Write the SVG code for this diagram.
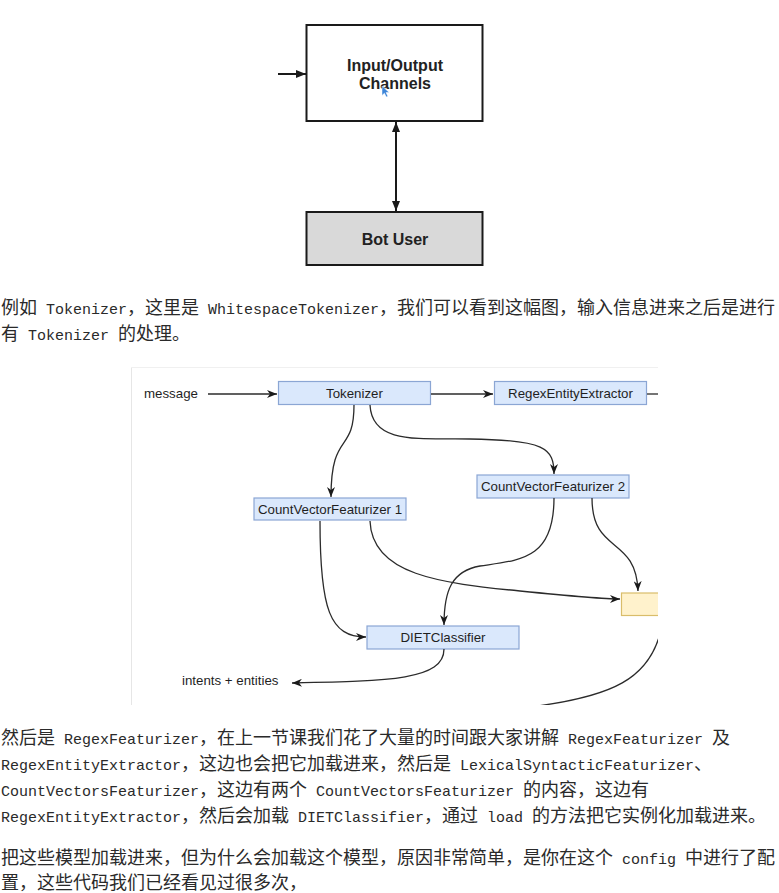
<svg xmlns="http://www.w3.org/2000/svg" width="779" height="893" viewBox="0 0 779 893">
<style>
.p{fill:#2a2a2a}
.c{font-family:"Noto Sans CJK SC","Noto Sans",sans-serif;font-size:18px}
.l{font-family:"Liberation Mono",monospace;font-size:15px}
.bt{font-family:"Liberation Sans",Arial,sans-serif;font-weight:bold;font-size:16px;fill:#222;text-anchor:middle}
.nt{font-family:"Liberation Sans",Arial,sans-serif;font-size:13.3px;fill:#1f1f1f;text-anchor:middle}
.lb{font-family:"Liberation Sans",Arial,sans-serif;font-size:13.3px;fill:#1f1f1f}
.bl{fill:#dae8fc;stroke:#8ba6d4;stroke-width:1.2}
.ye{fill:#fff2cc;stroke:#d9bd6a;stroke-width:1.2}
.e1{fill:none;stroke:#1a1a1a;stroke-width:2}
.e2{fill:none;stroke:#2b2b2b;stroke-width:1.3}
</style>
<defs>
<marker id="a1" viewBox="0 0 10 8" refX="10" refY="4" markerWidth="10" markerHeight="8" orient="auto-start-reverse" markerUnits="userSpaceOnUse"><path d="M0,0 L10,4 L0,8 Z" fill="#1a1a1a"/></marker>
<marker id="a2" viewBox="0 0 10 8" refX="10" refY="4" markerWidth="10" markerHeight="8" orient="auto" markerUnits="userSpaceOnUse"><path d="M0,0 L10,4 L0,8 L3,4 Z" fill="#1a1a1a"/></marker>
<clipPath id="cp"><rect x="131" y="367" width="527" height="338"/></clipPath>
</defs>
<rect width="779" height="893" fill="#fff"/>

<!-- top figure -->
<g id="io">
<rect x="306.5" y="25" width="176" height="96" fill="#fff" stroke="#1a1a1a" stroke-width="2"/>
<text class="bt" x="395" y="71">Input/Output</text>
<text class="bt" x="395" y="89">Channels</text>
</g>
<g id="user">
<rect x="306.5" y="212" width="176" height="53" fill="#d9d9d9" stroke="#1a1a1a" stroke-width="2"/>
<text class="bt" x="395" y="245">Bot User</text>
</g>
<g id="cursor"><path d="M382,86 L382,95.5 L384.4,93.2 L386.3,97 L387.9,96.2 L386,92.6 L389.2,92.4 Z" fill="#3d85d8" stroke="#fff" stroke-width="0.5"/></g>
<g id="edges-top">
<line class="e1" x1="278" y1="74" x2="306" y2="74" marker-end="url(#a1)"/>
<line class="e1" x1="396" y1="122" x2="396" y2="211" marker-start="url(#a1)" marker-end="url(#a1)"/>
</g>

<text class="p" x="1" y="313.5" xml:space="preserve"><tspan class="c">例如</tspan><tspan class="l"> Tokenizer</tspan><tspan class="c">，这里是</tspan><tspan class="l"> WhitespaceTokenizer</tspan><tspan class="c">，我们可以看到这幅图，输入信息进来之后是进行</tspan></text>
<text class="p" x="1" y="339.5" xml:space="preserve"><tspan class="c">有</tspan><tspan class="l"> Tokenizer </tspan><tspan class="c">的处理。</tspan></text>

<!-- second figure -->
<g clip-path="url(#cp)">
<rect x="131" y="367" width="527" height="338" fill="#fff"/>
<line x1="131.5" y1="367" x2="131.5" y2="705" stroke="#e6e6e6" stroke-width="1"/>
<line x1="131" y1="367.5" x2="658" y2="367.5" stroke="#f0f0f0" stroke-width="1"/>
<g id="message"><text class="lb" x="144" y="398">message</text></g>
<g id="tokenizer"><rect class="bl" x="278.5" y="381.5" width="152" height="23"/><text class="nt" x="354.5" y="397.5">Tokenizer</text></g>
<g id="regexentityextractor"><rect class="bl" x="494.5" y="381.5" width="152" height="23"/><text class="nt" x="570.5" y="397.5">RegexEntityExtractor</text></g>
<g id="cvf2"><rect class="bl" x="477" y="475" width="152" height="23"/><text class="nt" x="553" y="491">CountVectorFeaturizer 2</text></g>
<g id="cvf1"><rect class="bl" x="254" y="498" width="152" height="22"/><text class="nt" x="330" y="513.5">CountVectorFeaturizer 1</text></g>
<g id="diet"><rect class="bl" x="367" y="626" width="152" height="23"/><text class="nt" x="443" y="642">DIETClassifier</text></g>
<g id="yellow"><rect class="ye" x="621.5" y="593" width="50" height="22.5"/></g>
<g id="intents"><text class="lb" x="182" y="685">intents + entities</text></g>
<g id="edges">
<path class="e2" d="M208,394 L277,394" marker-end="url(#a2)"/>
<path class="e2" d="M431,394 L493,394" marker-end="url(#a2)"/>
<path class="e2" d="M647,394 L662,394"/>
<path class="e2" d="M354,405 C354,455 331,430 331,497" marker-end="url(#a2)"/>
<path class="e2" d="M370,405 C372,445 420,438 470,439 C545,440 554,448 554,474" marker-end="url(#a2)"/>
<path class="e2" d="M320,521 C320,610 330,637 366,637" marker-end="url(#a2)"/>
<path class="e2" d="M370,521 C372,575 440,583 520,591 C570,596 600,599 620,599" marker-end="url(#a2)"/>
<path class="e2" d="M554,498 C554,560 520,560 480,566 C452,571 444,590 444,625" marker-end="url(#a2)"/>
<path class="e2" d="M592,498 C592,555 636,535 638,591" marker-end="url(#a2)"/>
<path class="e2" d="M444,649 C444,680 390,681 292,683" marker-end="url(#a2)"/>
<path class="e2" d="M662,625 C652,680 610,697 530,707"/>
</g>
</g>

<text class="p" x="1" y="743.5" xml:space="preserve"><tspan class="c">然后是</tspan><tspan class="l"> RegexFeaturizer</tspan><tspan class="c">，在上一节课我们花了大量的时间跟大家讲解</tspan><tspan class="l"> RegexFeaturizer </tspan><tspan class="c">及</tspan></text>
<text class="p" x="1" y="769.5" xml:space="preserve"><tspan class="l">RegexEntityExtractor</tspan><tspan class="c">，这边也会把它加载进来，然后是</tspan><tspan class="l"> LexicalSyntacticFeaturizer</tspan><tspan class="c">、</tspan></text>
<text class="p" x="1" y="795.5" xml:space="preserve"><tspan class="l">CountVectorsFeaturizer</tspan><tspan class="c">，这边有两个</tspan><tspan class="l"> CountVectorsFeaturizer </tspan><tspan class="c">的内容，这边有</tspan></text>
<text class="p" x="1" y="821.5" xml:space="preserve"><tspan class="l">RegexEntityExtractor</tspan><tspan class="c">，然后会加载</tspan><tspan class="l"> DIETClassifier</tspan><tspan class="c">，通过</tspan><tspan class="l"> load </tspan><tspan class="c">的方法把它实例化加载进来。</tspan></text>
<text class="p" x="1" y="863.5" xml:space="preserve"><tspan class="c">把这些模型加载进来，但为什么会加载这个模型，原因非常简单，是你在这个</tspan><tspan class="l"> config </tspan><tspan class="c">中进行了配</tspan></text>
<text class="p" x="1" y="888.5" xml:space="preserve"><tspan class="c">置，这些代码我们已经看见过很多次，</tspan></text>
</svg>
